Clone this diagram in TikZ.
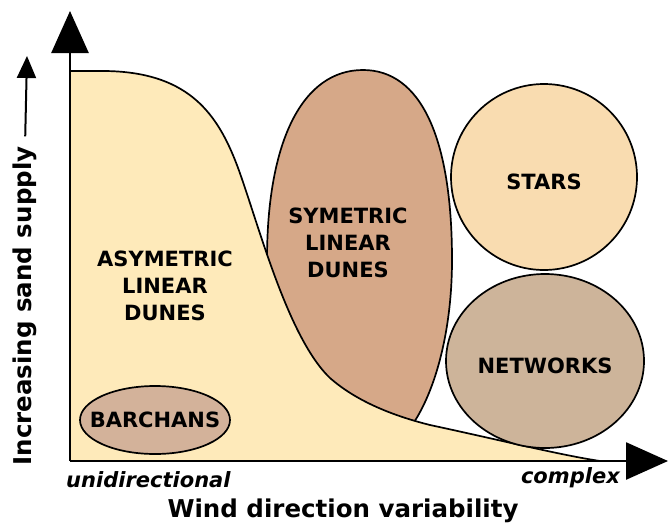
\documentclass[tikz,border=0pt]{standalone}
\usepackage{fontspec}
\setmainfont{DejaVu Sans}
\usetikzlibrary{arrows.meta,shapes.geometric}
\definecolor{sandY}{HTML}{FEEABA}
\definecolor{symB}{HTML}{D6A888}
\definecolor{starC}{HTML}{F9DCB0}
\definecolor{netC}{HTML}{CDB49A}
\definecolor{barC}{HTML}{D3B29A}
\tikzset{
  lbl/.style={font=\bfseries\fontsize{21}{27}\selectfont, align=center, text=black, inner sep=0pt},
  axlbl/.style={font=\bfseries\fontsize{24.5}{28}\selectfont, inner sep=0pt},
  endlbl/.style={font=\bfseries\itshape\fontsize{21}{25}\selectfont, inner sep=0pt},
  shp/.style={draw=black, line width=1.7pt},
  axis/.style={line width=2.6pt, -{Triangle[width=37pt,length=42pt]}},
}
\begin{document}
\begin{tikzpicture}[x=1pt,y=-1pt]
\useasboundingbox (0,0) rectangle (668,530);
% symmetric linear dunes (egg shape, lower part hidden behind the yellow region)
\draw[shp, fill=symB] (363,70) .. controls (303,70) and (267,140) .. (267,260)
  .. controls (267,368) and (311,456) .. (366,456)
  .. controls (413,456) and (452,368) .. (452,260)
  .. controls (452,136) and (420,70) .. (363,70) -- cycle;
% asymmetric region
\fill[sandY] (70,71) -- (105,71) .. controls (185,72) and (215,110) .. (235,160)
  .. controls (255,210) and (285,335) .. (330,378)
  .. controls (355,400) and (390,415) .. (430,425)
  .. controls (500,440) and (560,455) .. (600,461) -- (70,461) -- cycle;
\draw[shp] (70,71) -- (105,71) .. controls (185,72) and (215,110) .. (235,160)
  .. controls (255,210) and (285,335) .. (330,378)
  .. controls (355,400) and (390,415) .. (430,425)
  .. controls (500,440) and (560,455) .. (600,461);
% circles
\node[shp, fill=starC, circle, minimum size=186pt, inner sep=0pt] (stars) at (544,177) {};
\node[shp, fill=netC, ellipse, minimum width=198pt, minimum height=174pt, inner sep=0pt] (net) at (545,361) {};
\node[shp, fill=barC, ellipse, minimum width=150pt, minimum height=68pt, inner sep=0pt] (bar) at (155,420) {};
% labels
\node[lbl] (tstars) at (544,182) {STARS};
\node[lbl] (tnet) at (545,366) {NETWORKS};
\node[lbl] (tbar) at (155,420) {BARCHANS};
\node[lbl] (tasym) at (165,286) {ASYMETRIC\\LINEAR\\DUNES};
\node[lbl] (tsym) at (348,243) {SYMETRIC\\LINEAR\\DUNES};
% axes
\coordinate (origin) at (70,461);
\coordinate (ytip) at (70,11);
\coordinate (xtip) at (668,461);
\draw[axis] (origin) -- (ytip);
\draw[axis] (origin) -- (xtip);
% axis labels
\node[endlbl, anchor=west] (uni) at (66,480) {unidirectional};
\node[endlbl, anchor=east] (cpx) at (620,478) {complex};
\node[axlbl] (xlab) at (343,511) {Wind direction variability};
\node[axlbl, rotate=90] (ylab) at (25,306) {Increasing sand supply};
\coordinate (yarrtip) at (27,56);
\draw[line width=2pt, -{Triangle[width=19pt,length=22pt]}, shorten <=10pt] (ylab.east) -- (yarrtip);
\end{tikzpicture}
\end{document}
